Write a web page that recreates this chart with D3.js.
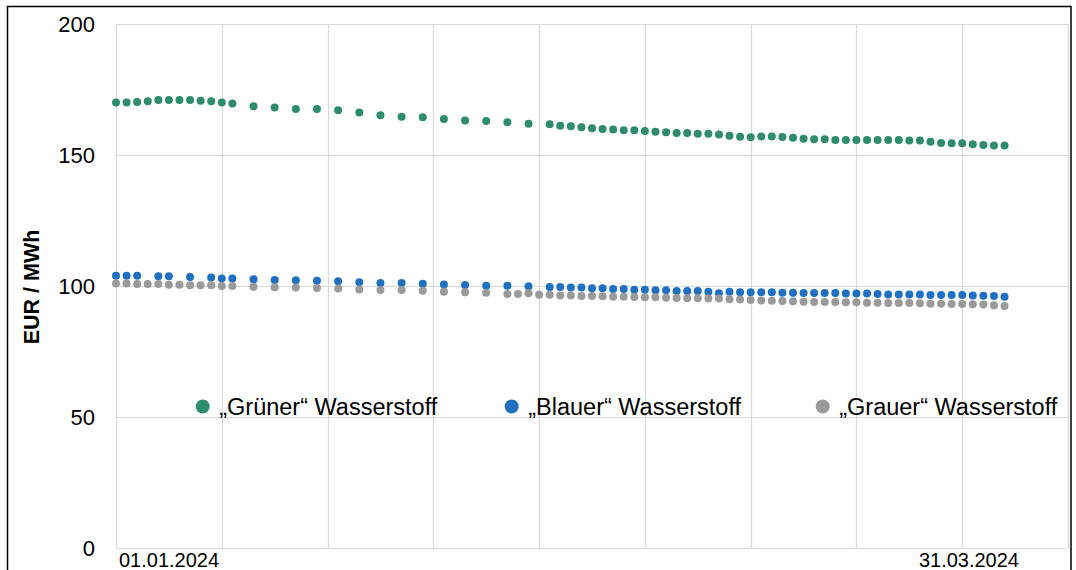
<!DOCTYPE html>
<html>
<head>
<meta charset="utf-8">
<script src="https://cdn.jsdelivr.net/npm/d3@7"></script>
<style>
  html, body { margin: 0; padding: 0; background: #ffffff; }
  svg { display: block; font-family: "Liberation Sans", Arial, sans-serif; }
</style>
</head>
<body>
<svg id="chart" width="1076" height="570"></svg>
<script>
// Daily hydrogen price indications, Q1 2024 (EUR/MWh)
const dates = [
  "01.01.2024","02.01.2024","03.01.2024","04.01.2024","05.01.2024","06.01.2024",
  "07.01.2024","08.01.2024","09.01.2024","10.01.2024","11.01.2024","12.01.2024",
  "14.01.2024","16.01.2024","18.01.2024","20.01.2024","22.01.2024","24.01.2024",
  "26.01.2024","28.01.2024","30.01.2024","01.02.2024","03.02.2024","05.02.2024",
  "07.02.2024","08.02.2024","09.02.2024","10.02.2024","11.02.2024",
  "12.02.2024","13.02.2024","14.02.2024","15.02.2024","16.02.2024","17.02.2024",
  "18.02.2024","19.02.2024","20.02.2024","21.02.2024","22.02.2024","23.02.2024",
  "24.02.2024","25.02.2024","26.02.2024","27.02.2024","28.02.2024","29.02.2024",
  "01.03.2024","02.03.2024","03.03.2024","04.03.2024","05.03.2024","06.03.2024",
  "07.03.2024","08.03.2024","09.03.2024","10.03.2024","11.03.2024","12.03.2024",
  "13.03.2024","14.03.2024","15.03.2024","16.03.2024","17.03.2024","18.03.2024",
  "19.03.2024","20.03.2024","21.03.2024","22.03.2024","23.03.2024","24.03.2024",
  "25.03.2024"
];

const gruen = [
  170.0,170.0,170.2,170.5,171.0,171.0,171.0,171.0,170.7,170.5,170.0,169.7,
  168.6,168.1,167.6,167.6,167.1,166.2,165.2,164.6,164.4,163.7,163.2,163.0,162.5,
  null,161.9,null,161.7,
  161.2,161.0,160.6,160.2,159.9,159.7,159.4,159.4,159.2,158.9,158.7,158.4,
  158.4,158.1,158.1,157.8,157.3,157.0,
  156.8,157.1,157.1,156.9,156.6,156.2,156.0,156.0,155.7,155.7,155.7,155.7,
  155.7,155.7,155.7,155.5,155.5,155.1,154.6,154.5,154.5,154.1,153.8,153.6,
  153.6
];

const blau = [
  103.9,103.9,103.9,null,103.7,103.7,null,103.4,null,103.2,102.9,102.9,
  102.6,102.3,102.2,102.0,101.8,101.4,101.1,101.1,100.9,100.6,100.4,100.1,100.1,
  null,99.9,null,99.6,
  99.6,99.4,99.4,99.1,99.1,98.9,98.9,98.6,98.6,98.4,98.4,98.1,
  98.1,98.1,97.8,97.2,97.8,97.6,
  97.6,97.6,97.6,97.4,97.4,97.3,97.3,97.3,97.3,97.1,97.1,97.1,
  96.9,96.8,96.8,96.8,96.8,96.6,96.6,96.6,96.6,96.4,96.3,96.2,
  95.9
];

const grau = [
  101.0,101.0,100.8,100.8,100.8,100.5,100.5,100.3,100.3,100.3,100.0,100.0,
  99.7,99.5,99.4,99.2,99.0,98.7,98.5,98.5,98.2,97.8,97.6,97.4,96.9,
  96.9,97.2,96.7,96.7,
  96.4,96.4,96.2,96.2,96.1,95.9,95.9,95.8,95.7,95.7,95.5,95.4,
  95.3,95.3,95.2,95.2,94.9,94.8,
  94.7,94.5,94.4,94.3,94.2,94.0,93.9,93.9,93.9,93.8,93.8,93.6,
  93.6,93.5,93.5,93.5,93.4,93.2,93.2,93.1,93.1,93.0,92.9,92.7,
  92.4
];

const seriesNames = ["\u201EGr\u00FCner\u201C Wasserstoff", "\u201EBlauer\u201C Wasserstoff", "\u201EGrauer\u201C Wasserstoff"];
const seriesColors = ["#2e8c6a", "#1f70c1", "#9a9a9a"];
const yTicks = [0, 50, 100, 150, 200];
const xRange = ["01.01.2024", "31.03.2024"];
const xLabels = ["01.01.2024", "31.03.2024"];
const yTitle = "EUR / MWh";

const parse = d3.utcParse("%d.%m.%Y");
const svg = d3.select("#chart");

const plot = { left: 116, right: 1068, top: 24, bottom: 548 };

const x = d3.scaleUtc()
  .domain(xRange.map(parse))
  .range([plot.left, plot.right]);

const y = d3.scaleLinear()
  .domain([0, 200])
  .range([plot.bottom, plot.top]);

// outer chart frame
svg.append("rect")
  .attr("x", 7.5).attr("y", 6.5)
  .attr("width", 1063.5).attr("height", 620)
  .attr("fill", "none")
  .attr("stroke", "#000")
  .attr("stroke-width", 1.5);

// gridlines
const grid = svg.append("g").attr("stroke", "#d9d9d9").attr("stroke-width", 1.2);
const [x0, x1] = x.domain();
const vTicks = d3.utcDay.range(x0, d3.utcDay.offset(x1, 1), 10);
grid.selectAll("line.v").data(vTicks).join("line")
  .attr("class", "v")
  .attr("x1", d => Math.round(x(d)) + 0.5).attr("x2", d => Math.round(x(d)) + 0.5)
  .attr("y1", plot.top).attr("y2", plot.bottom);
grid.selectAll("line.h").data(yTicks).join("line")
  .attr("class", "h")
  .attr("x1", plot.left).attr("x2", plot.right)
  .attr("y1", d => Math.round(y(d)) + 0.5).attr("y2", d => Math.round(y(d)) + 0.5);

// y axis labels
const yAxis = d3.axisLeft(y).tickValues(yTicks).tickSize(0).tickPadding(21);
const yg = svg.append("g").attr("transform", `translate(${plot.left},0)`).call(yAxis);
yg.select(".domain").remove();
yg.selectAll("text")
  .attr("font-family", "Liberation Sans, Arial, sans-serif")
  .attr("font-size", 22)
  .attr("fill", "#000");

// y axis title
svg.append("text")
  .attr("transform", `translate(39,${(plot.top + plot.bottom) / 2 + 1}) rotate(-90)`)
  .attr("text-anchor", "middle")
  .attr("font-size", 21.5)
  .attr("font-weight", "bold")
  .attr("fill", "#000")
  .text(yTitle);

// x axis labels (first and last day of the quarter)
svg.selectAll("text.xl").data(xLabels).join("text")
  .attr("class", "xl")
  .attr("x", (d, i) => i === 0 ? x(parse(d)) + 3 : x(parse(d)) - 49)
  .attr("y", 567)
  .attr("text-anchor", (d, i) => i === 0 ? "start" : "end")
  .attr("font-size", 20)
  .attr("fill", "#000")
  .text(d => d);

// series markers
const series = [gruen, blau, grau].map((vals, i) => ({
  name: seriesNames[i],
  color: seriesColors[i],
  points: dates.map((d, j) => ({ date: parse(d), value: vals[j] })).filter(p => p.value !== null)
}));

svg.selectAll("g.series").data(series).join("g")
  .attr("class", "series")
  .attr("fill", d => d.color)
  .selectAll("circle").data(d => d.points).join("circle")
  .attr("cx", p => x(p.date))
  .attr("cy", p => y(p.value))
  .attr("r", 4);

// legend
const legendX = [202.7, 511.7, 822.7];
const legend = svg.selectAll("g.legend").data(series).join("g")
  .attr("class", "legend")
  .attr("transform", (d, i) => `translate(${legendX[i]},406.5)`);
legend.append("circle").attr("r", 7).attr("fill", d => d.color);
legend.append("text")
  .attr("x", 16.5)
  .attr("y", 8.5)
  .attr("font-size", 23.5)
  .attr("fill", "#000")
  .text(d => d.name);
</script>
</body>
</html>
